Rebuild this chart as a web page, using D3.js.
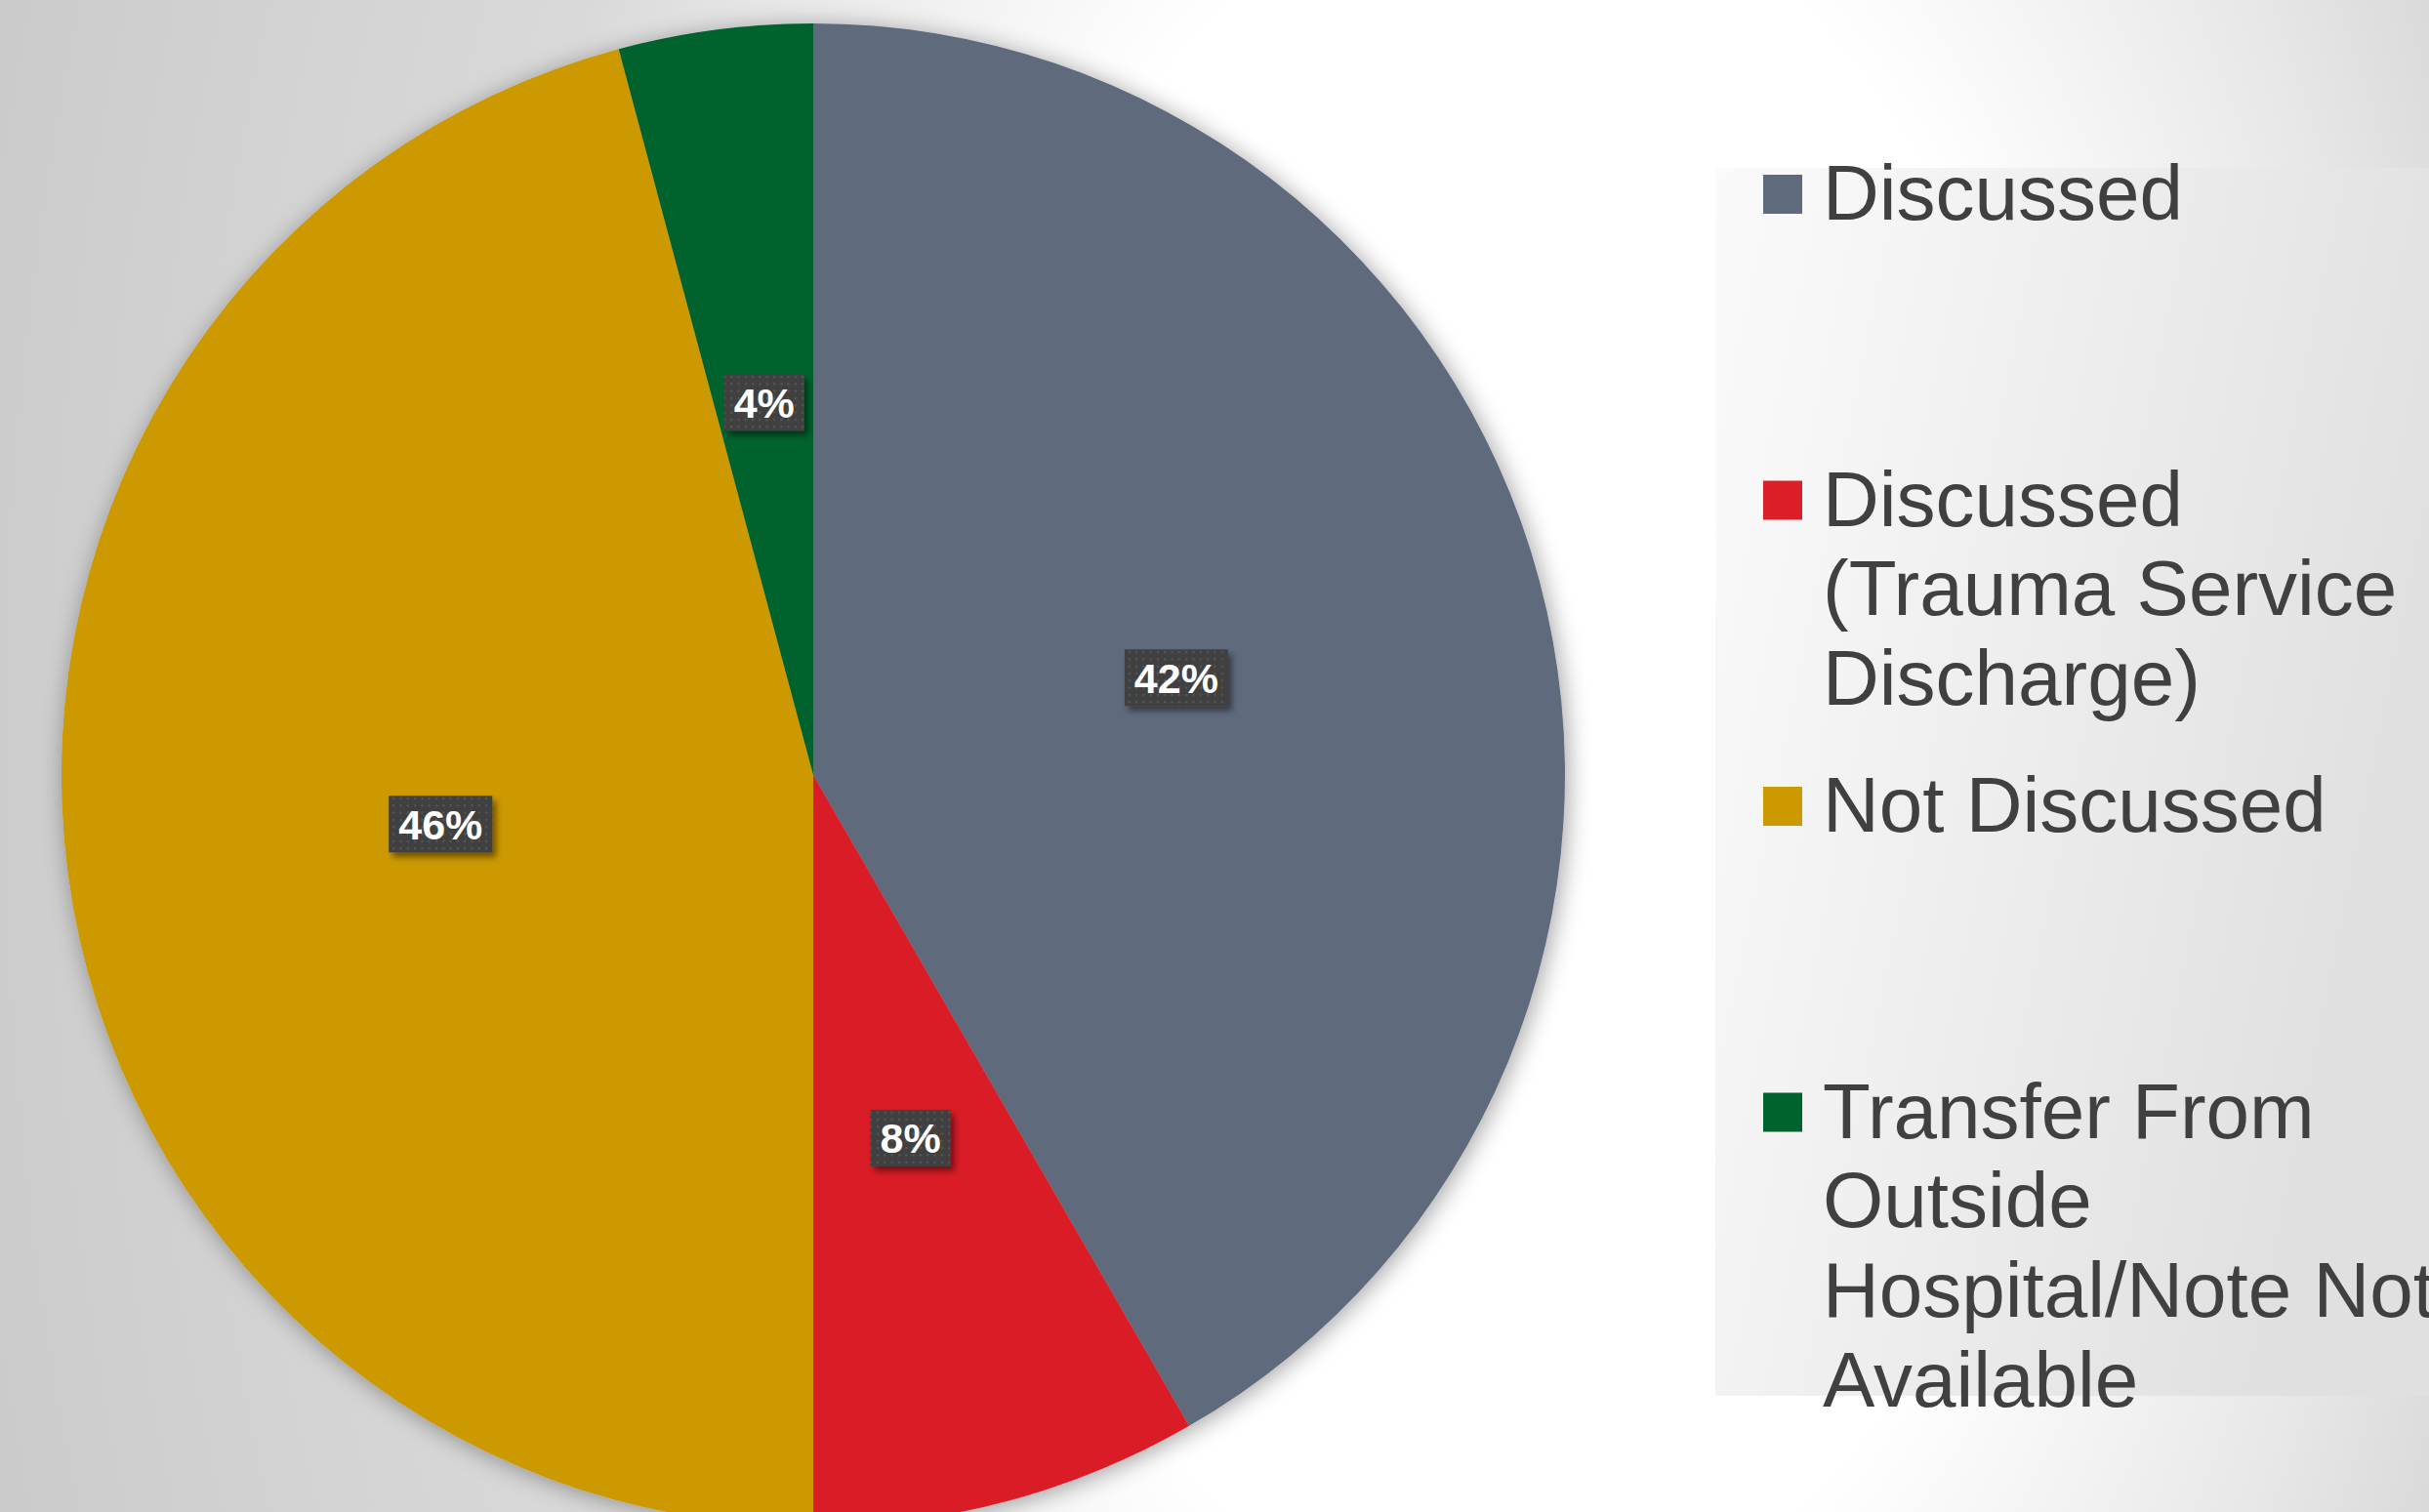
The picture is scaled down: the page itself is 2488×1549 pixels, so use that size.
<!DOCTYPE html>
<html>
<head>
<meta charset="utf-8">
<script src="https://cdn.jsdelivr.net/npm/d3@7"></script>
<style>
  html, body { margin: 0; padding: 0; overflow: hidden; background: #fff; }
  svg { display: block; }
</style>
</head>
<body>
<svg id="chart" width="2488" height="1549"></svg>
<script>
// ---- data ----
const categories = [
  "Discussed",
  "Discussed (Trauma Service Discharge)",
  "Not Discussed",
  "Transfer From Outside Hospital/Note Not Available"
];
const values = [10, 2, 11, 1];
const colors = ["#5f6a7d", "#da1f28", "#cc9900", "#00632e"];

// ---- layout ----
const W = 2488, H = 1549;
const cx = 833, cy = 794, R = 770;
const labelRadius = R * 0.5;
const legendX = 1757, legendY = 172, legendBottom = 1430;
const legendFirstBaseline = 225, legendStride = 313.5, legendLineH = 91.7;
const legendFont = 80, legendWrap = 660;
const markerX = 1806, textX = 1867;

const svg = d3.select("#chart");
const defs = svg.append("defs");

// background radial gradient (elliptical)
const bg = defs.append("radialGradient")
  .attr("id", "bg").attr("gradientUnits", "userSpaceOnUse")
  .attr("cx", 0).attr("cy", 0).attr("r", 1)
  .attr("gradientTransform", `translate(1550,775) scale(${1250*1.35},${2000*1.35})`);
[[0,"#ffffff"],[0.333,"#ffffff"],[0.533,"#e7e7e7"],[0.63,"#d9d9d9"],[0.78,"#d3d3d3"],[1,"#c9c9c9"]]
  .forEach(([o,c]) => bg.append("stop").attr("offset", o).attr("stop-color", c));

// legend box gradient
const lg = defs.append("linearGradient").attr("id", "lg")
  .attr("x1", 0).attr("y1", 0).attr("x2", 1).attr("y2", 0.35);
[[0,"#fafafa"],[0.15,"#f7f7f7"],[1,"#e0e0e0"]]
  .forEach(([o,c]) => lg.append("stop").attr("offset", o).attr("stop-color", c));

// pie shadow
const sh = defs.append("filter").attr("id", "pieShadow")
  .attr("x", "-10%").attr("y", "-10%").attr("width", "120%").attr("height", "120%");
sh.append("feDropShadow").attr("dx", 3).attr("dy", 3).attr("stdDeviation", 12)
  .attr("flood-color", "#000").attr("flood-opacity", 0.36);

// label shadow
const ls = defs.append("filter").attr("id", "lblShadow")
  .attr("x", "-20%").attr("y", "-20%").attr("width", "150%").attr("height", "160%");
ls.append("feDropShadow").attr("dx", 4).attr("dy", 5).attr("stdDeviation", 3)
  .attr("flood-color", "#000").attr("flood-opacity", 0.45);

// dotted pattern for label boxes
const pat = defs.append("pattern").attr("id", "dots")
  .attr("patternUnits", "userSpaceOnUse").attr("width", 7.3).attr("height", 7.3);
pat.append("rect").attr("width", 7.3).attr("height", 7.3).attr("fill", "#404040");
pat.append("rect").attr("x", 2).attr("y", 2).attr("width", 2).attr("height", 2).attr("fill", "#5a5a5a");

// background
svg.append("rect").attr("width", W).attr("height", H).attr("fill", "url(#bg)");

// legend box
svg.append("rect").attr("x", legendX).attr("y", legendY)
  .attr("width", W - legendX).attr("height", legendBottom - legendY)
  .attr("fill", "url(#lg)");

// pie
const pie = d3.pie().sort(null).value(d => d)(values);
const arc = d3.arc().innerRadius(0).outerRadius(R);
const labelArc = d3.arc().innerRadius(labelRadius).outerRadius(labelRadius);
const total = d3.sum(values);

const g = svg.append("g").attr("transform", `translate(${cx},${cy})`);
g.append("g").attr("filter", "url(#pieShadow)")
  .selectAll("path").data(pie).join("path")
  .attr("d", arc)
  .attr("fill", (d, i) => colors[i]);

// data labels
const lbl = g.selectAll("g.lbl").data(pie).join("g").attr("class", "lbl")
  .attr("transform", d => `translate(${labelArc.centroid(d)})`);
lbl.each(function(d) {
  const sel = d3.select(this);
  const txt = Math.round(d.value / total * 100) + "%";
  const t = sel.append("text")
    .attr("text-anchor", "middle")
    .attr("y", 15.5)
    .attr("font-family", "'Liberation Sans', Arial, sans-serif")
    .attr("font-weight", "bold")
    .attr("font-size", 43)
    .attr("fill", "#ffffff")
    .text(txt);
  const w = t.node().getComputedTextLength() + 20;
  sel.insert("rect", "text")
    .attr("x", -w / 2).attr("y", -29).attr("width", w).attr("height", 58)
    .attr("fill", "url(#dots)")
    .attr("filter", "url(#lblShadow)");
});

// legend
const leg = svg.append("g");
categories.forEach((name, i) => {
  const base = legendFirstBaseline + i * legendStride;
  leg.append("rect")
    .attr("x", markerX).attr("y", base - 46).attr("width", 40).attr("height", 40)
    .attr("fill", colors[i]);
  const t = leg.append("text")
    .attr("x", textX).attr("y", base)
    .attr("font-family", "'Liberation Sans', Arial, sans-serif")
    .attr("font-size", legendFont)
    .attr("fill", "#404040");
  // word wrap
  const words = name.split(" ");
  let line = [];
  let lineNo = 0;
  let tspan = t.append("tspan").attr("x", textX).attr("y", base);
  words.forEach(w => {
    line.push(w);
    tspan.text(line.join(" "));
    if (tspan.node().getComputedTextLength() > legendWrap && line.length > 1) {
      line.pop();
      tspan.text(line.join(" "));
      line = [w];
      lineNo++;
      tspan = t.append("tspan").attr("x", textX).attr("y", base + lineNo * legendLineH).text(w);
    }
  });
});
</script>
</body>
</html>
